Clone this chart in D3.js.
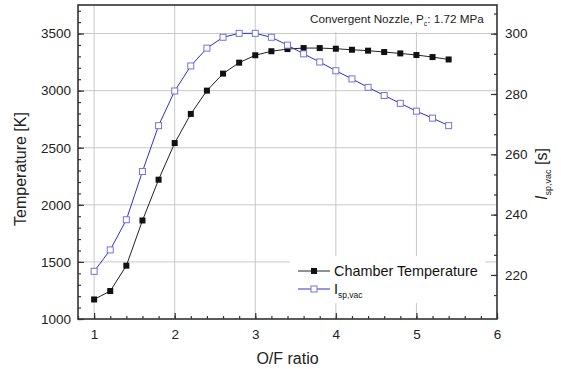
<!DOCTYPE html>
<html>
<head>
<meta charset="utf-8">
<script src="https://cdn.jsdelivr.net/npm/d3@7"></script>
<style>
  html, body { margin: 0; padding: 0; background: #fff; }
  svg { display: block; font-family: "Liberation Sans", Arial, sans-serif; }
</style>
</head>
<body>
<svg id="chart" width="561" height="369"></svg>
<script>
// ---- data ----
const ofRatio = [1.0, 1.2, 1.4, 1.6, 1.8, 2.0, 2.2, 2.4, 2.6, 2.8, 3.0, 3.2, 3.4, 3.6, 3.8, 4.0, 4.2, 4.4, 4.6, 4.8, 5.0, 5.2, 5.4];
const chamberTemp = [1171, 1245, 1467, 1863, 2220, 2541, 2796, 3000, 3149, 3245, 3310, 3345, 3364, 3373, 3373, 3367, 3358, 3350, 3338, 3326, 3312, 3294, 3273];
const ispVac = [221.2, 228.3, 238.3, 254.3, 269.5, 281.0, 289.3, 295.2, 298.8, 300.1, 300.1, 298.8, 296.2, 293.3, 290.6, 287.7, 285.0, 282.2, 279.5, 276.9, 274.3, 272.0, 269.5];
const xTicks = [1, 2, 3, 4, 5, 6];
const tempTicks = [1000, 1500, 2000, 2500, 3000, 3500];
const ispTicks = [220, 240, 260, 280, 300];
const legendLabels = ["Chamber Temperature", "I"];

// ---- layout ----
const svg = d3.select("#chart");
const L = 78, R = 497, T = 5, B = 319;
const x = d3.scaleLinear().domain([0.8, 6]).range([L, R]);
const yT = d3.scaleLinear().domain([1000, 3750]).range([B, T]);
const yI = d3.scaleLinear().domain([205.4, 309.5]).range([B, T]);

const axisColor = "#333";
const gridColor = "#c8c8c8";
const blueLine = "#3030c8";
const blueMarker = "#7474dc";

// grid
const grid = svg.append("g");
grid.selectAll("line.gx").data(xTicks.filter(d => d < 6)).enter().append("line")
  .attr("x1", d => x(d)).attr("x2", d => x(d)).attr("y1", T).attr("y2", B)
  .attr("stroke", gridColor).attr("stroke-width", 1);
grid.selectAll("line.gy").data(tempTicks.filter(d => d > 1000)).enter().append("line")
  .attr("x1", L).attr("x2", R).attr("y1", d => yT(d)).attr("y2", d => yT(d))
  .attr("stroke", gridColor).attr("stroke-width", 1);

// white boxes for annotation and legend (hide grid)
svg.append("rect").attr("x", 300).attr("y", T + 1).attr("width", R - 301).attr("height", 26).attr("fill", "#fff");
svg.append("rect").attr("x", 290).attr("y", 256).attr("width", 195).attr("height", 47).attr("fill", "#fff");

// axes with inward ticks
const fmt = d3.format("d");
const xMinor = d3.range(0.8, 6.0001, 0.2).map(v => +v.toFixed(1));
const gx = svg.append("g").attr("transform", `translate(0,${B})`);
gx.call(d3.axisBottom(x).tickValues(xMinor).tickSize(-3).tickFormat(""));
const gx2 = svg.append("g").attr("transform", `translate(0,${B})`);
gx2.call(d3.axisBottom(x).tickValues(xTicks).tickSize(-6).tickPadding(10).tickFormat(fmt));

const tMinor = d3.range(1000, 3751, 100);
const gy = svg.append("g").attr("transform", `translate(${L},0)`);
gy.call(d3.axisLeft(yT).tickValues(tMinor).tickSize(-3).tickFormat(""));
const gy2 = svg.append("g").attr("transform", `translate(${L},0)`);
gy2.call(d3.axisLeft(yT).tickValues(tempTicks).tickSize(-6).tickPadding(7).tickFormat(fmt));

const iMinor = d3.range(-2, 14).map(k => 300 - k * 20 / 3).filter(v => v > 205.4 && v < 309.5);
const gr = svg.append("g").attr("transform", `translate(${R},0)`);
gr.call(d3.axisRight(yI).tickValues(iMinor).tickSize(-3).tickFormat(""));
const gr2 = svg.append("g").attr("transform", `translate(${R},0)`);
gr2.call(d3.axisRight(yI).tickValues(ispTicks).tickSize(-6).tickPadding(8).tickFormat(fmt));

svg.selectAll(".domain").remove();
svg.selectAll(".tick line").attr("stroke", axisColor).attr("stroke-width", 1.2);
svg.selectAll(".tick text").attr("fill", "#222").style("font-size", "13.5px")
  .style("font-family", "'Liberation Sans', Arial, sans-serif");

// frame
svg.append("rect").attr("x", L).attr("y", T).attr("width", R - L).attr("height", B - T)
  .attr("fill", "none").attr("stroke", axisColor).attr("stroke-width", 1.6);

// lines
const lineT = d3.line().x((d, i) => x(ofRatio[i])).y(d => yT(d));
const lineI = d3.line().x((d, i) => x(ofRatio[i])).y(d => yI(d));
svg.append("path").datum(chamberTemp).attr("d", lineT).attr("fill", "none").attr("stroke", "#222").attr("stroke-width", 1);
svg.append("path").datum(ispVac).attr("d", lineI).attr("fill", "none").attr("stroke", blueLine).attr("stroke-width", 1);

const ms = 6;
svg.append("g").selectAll("rect").data(chamberTemp).enter().append("rect")
  .attr("x", (d, i) => x(ofRatio[i]) - ms / 2).attr("y", d => yT(d) - ms / 2)
  .attr("width", ms).attr("height", ms).attr("fill", "#111");
svg.append("g").selectAll("rect").data(ispVac).enter().append("rect")
  .attr("x", (d, i) => x(ofRatio[i]) - ms / 2).attr("y", d => yI(d) - ms / 2)
  .attr("width", ms).attr("height", ms).attr("fill", "#fff").attr("stroke", blueMarker).attr("stroke-width", 1);

// annotation
const ann = svg.append("text").attr("x", 310).attr("y", 23).attr("fill", "#222").style("font-size", "11.7px");
ann.append("tspan").text("Convergent Nozzle, P");
ann.append("tspan").attr("dy", 3).style("font-size", "7px").text("c");
ann.append("tspan").attr("dy", -3).text(": 1.72 MPa");

// legend
const lg = svg.append("g");
lg.append("line").attr("x1", 298).attr("x2", 330).attr("y1", 271).attr("y2", 271).attr("stroke", "#222").attr("stroke-width", 1);
lg.append("rect").attr("x", 314 - ms / 2).attr("y", 271 - ms / 2).attr("width", ms).attr("height", ms).attr("fill", "#111");
lg.append("text").attr("x", 334).attr("y", 276).attr("fill", "#111").style("font-size", "14.4px").text(legendLabels[0]);
lg.append("line").attr("x1", 298).attr("x2", 330).attr("y1", 289).attr("y2", 289).attr("stroke", blueLine).attr("stroke-width", 1);
lg.append("rect").attr("x", 314 - ms / 2).attr("y", 289 - ms / 2).attr("width", ms).attr("height", ms).attr("fill", "#fff").attr("stroke", blueMarker);
const lt = lg.append("text").attr("x", 334).attr("y", 294).attr("fill", "#111").style("font-size", "14.4px");
lt.append("tspan").text(legendLabels[1]);
lt.append("tspan").attr("dy", 4).style("font-size", "8.5px").text("sp,vac");

// axis titles
svg.append("text").attr("transform", `translate(26,169) rotate(-90)`)
  .attr("text-anchor", "middle").attr("fill", "#222").style("font-size", "16px").text("Temperature [K]");
svg.append("text").attr("x", (L + R) / 2).attr("y", 364)
  .attr("text-anchor", "middle").attr("fill", "#222").style("font-size", "16px").text("O/F ratio");
const rt = svg.append("text").attr("transform", `translate(547,174) rotate(-90)`)
  .attr("text-anchor", "middle").attr("fill", "#222").style("font-size", "16px");
rt.append("tspan").style("font-style", "italic").text("I");
rt.append("tspan").attr("dy", 4).style("font-size", "9px").text("sp,vac");
rt.append("tspan").attr("dy", -4).text(" [s]");
</script>
</body>
</html>
